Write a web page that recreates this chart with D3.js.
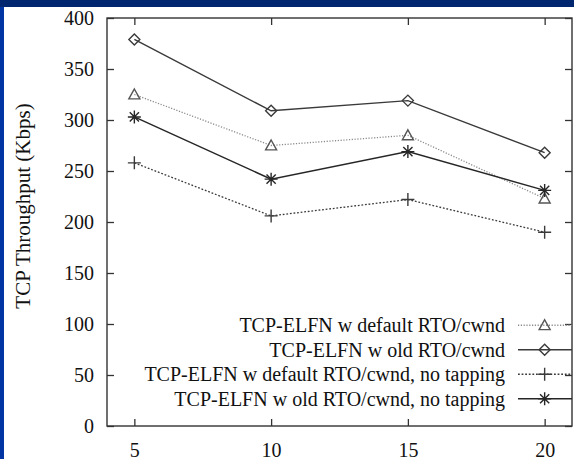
<!DOCTYPE html>
<html>
<head>
<meta charset="utf-8">
<script src="https://cdn.jsdelivr.net/npm/d3@7"></script>
<style>
  html, body { margin: 0; padding: 0; background: #0035a3; }
  svg { display: block; }
  text { font-family: "Liberation Serif", "Times New Roman", serif; fill: #111; }
</style>
</head>
<body>
<svg id="chart" width="574" height="459"></svg>
<script>
/** x positions (number of nodes) */
var xValues = [5, 10, 15, 20];

/** series values */
var defaultRto = [325, 275, 285, 223];
var oldRto = [379, 309, 319, 268];
var defaultNoTap = [258, 206, 222, 190];
var oldNoTap = [303, 242, 269, 231];

/** tick labels */
var yTicks = [0, 50, 100, 150, 200, 250, 300, 350, 400];
var xTicks = [5, 10, 15, 20];

var legendLabels = [
    'TCP-ELFN w default RTO/cwnd',
    'TCP-ELFN w old RTO/cwnd',
    'TCP-ELFN w default RTO/cwnd, no tapping',
    'TCP-ELFN w old RTO/cwnd, no tapping'
];

var series = [
    { label: legendLabels[0], values: defaultRto, marker: 'triangle', color: '#8a8a8a', dash: '1.2,1.6', width: 1.3 },
    { label: legendLabels[1], values: oldRto, marker: 'diamond', color: '#3a3a3a', dash: null, width: 1.4 },
    { label: legendLabels[2], values: defaultNoTap, marker: 'plus', color: '#3a3a3a', dash: '1.8,1.8', width: 1.3 },
    { label: legendLabels[3], values: oldNoTap, marker: 'star', color: '#262626', dash: null, width: 1.5 }
];

var svg = d3.select('#chart');

// blue slide background, white plot panel
svg.append('rect').attr('width', 574).attr('height', 459).attr('fill', '#0035a3');
svg.append('rect').attr('width', 574).attr('height', 7).attr('fill', '#00266f');
svg.append('rect').attr('x', 4).attr('y', 7).attr('width', 570).attr('height', 452).attr('fill', '#ffffff');

var plotLeft = 107, plotRight = 572, plotTop = 18, plotBottom = 426;

var x = d3.scaleLinear().domain([4, 21]).range([plotLeft, plotRight]);
var y = d3.scaleLinear().domain([0, 400]).range([plotBottom, plotTop]);

// axes with inward ticks on all four sides
var gB = svg.append('g').attr('transform', 'translate(0,' + plotBottom + ')')
    .call(d3.axisBottom(x).tickValues(xTicks).tickSize(-7).tickPadding(17));
var gL = svg.append('g').attr('transform', 'translate(' + plotLeft + ',0)')
    .call(d3.axisLeft(y).tickValues(yTicks).tickSize(-7).tickPadding(13));
var gT = svg.append('g').attr('transform', 'translate(0,' + plotTop + ')')
    .call(d3.axisTop(x).tickValues(xTicks).tickSize(-7).tickFormat(''));
var gR = svg.append('g').attr('transform', 'translate(' + plotRight + ',0)')
    .call(d3.axisRight(y).tickValues(yTicks).tickSize(-7).tickFormat(''));

[gB, gL, gT, gR].forEach(function (g) {
    g.select('.domain').remove();
    g.selectAll('line').attr('stroke', '#333').attr('stroke-width', 1.3);
    g.selectAll('text').attr('font-size', 20).attr('fill', '#111')
        .attr('font-family', '"Liberation Serif", "Times New Roman", serif');
});

svg.append('rect')
    .attr('x', plotLeft).attr('y', plotTop)
    .attr('width', plotRight - plotLeft).attr('height', plotBottom - plotTop)
    .attr('fill', 'none').attr('stroke', '#333').attr('stroke-width', 1.4);

svg.append('text')
    .attr('transform', 'translate(30,206) rotate(-90)')
    .attr('text-anchor', 'middle')
    .attr('font-size', 21)
    .text('TCP Throughput (Kbps)');

/** marker drawing */
function drawMarker(g, type, cx, cy, color) {
    var s = 5.5;
    var p;
    if (type === 'triangle') {
        p = 'M' + cx + ',' + (cy - s) + 'L' + (cx + s) + ',' + (cy + s * 0.8) + 'L' + (cx - s) + ',' + (cy + s * 0.8) + 'Z';
    } else if (type === 'diamond') {
        p = 'M' + cx + ',' + (cy - s) + 'L' + (cx + s) + ',' + cy + 'L' + cx + ',' + (cy + s) + 'L' + (cx - s) + ',' + cy + 'Z';
    } else if (type === 'plus') {
        var r = 6.5;
        p = 'M' + (cx - r) + ',' + cy + 'H' + (cx + r) + 'M' + cx + ',' + (cy - r) + 'V' + (cy + r);
    } else {
        var r2 = 6.5, d = 4.6;
        p = 'M' + (cx - r2) + ',' + cy + 'H' + (cx + r2) + 'M' + (cx - d) + ',' + (cy - d) + 'L' + (cx + d) + ',' + (cy + d) +
            'M' + (cx - d) + ',' + (cy + d) + 'L' + (cx + d) + ',' + (cy - d) + 'M' + cx + ',' + (cy - r2) + 'V' + (cy + r2);
    }
    g.append('path').attr('d', p)
        .attr('fill', 'none')
        .attr('stroke', type === 'triangle' ? '#555' : color)
        .attr('stroke-width', 1.4);
}

var line = d3.line()
    .x(function (d, i) { return x(xValues[i]); })
    .y(function (d) { return y(d); });

series.forEach(function (s) {
    var g = svg.append('g');
    g.append('path')
        .datum(s.values)
        .attr('d', line)
        .attr('fill', 'none')
        .attr('stroke', s.color)
        .attr('stroke-width', s.width)
        .attr('stroke-dasharray', s.dash);
    s.values.forEach(function (v, i) {
        drawMarker(g, s.marker, x(xValues[i]), y(v), s.color);
    });
});

// legend (gnuplot style key)
var legendY = d3.scaleBand().domain(legendLabels).range([313, 411]);
series.forEach(function (s) {
    var ly = legendY(s.label) + legendY.bandwidth() / 2;
    var g = svg.append('g');
    g.append('text')
        .attr('x', 505).attr('y', ly)
        .attr('dy', '0.35em')
        .attr('text-anchor', 'end')
        .attr('font-size', 20)
        .text(s.label);
    g.append('line')
        .attr('x1', 518).attr('x2', plotRight)
        .attr('y1', ly).attr('y2', ly)
        .attr('stroke', s.color)
        .attr('stroke-width', s.width)
        .attr('stroke-dasharray', s.dash);
    drawMarker(g, s.marker, x(20), ly, s.color);
});
</script>
</body>
</html>
